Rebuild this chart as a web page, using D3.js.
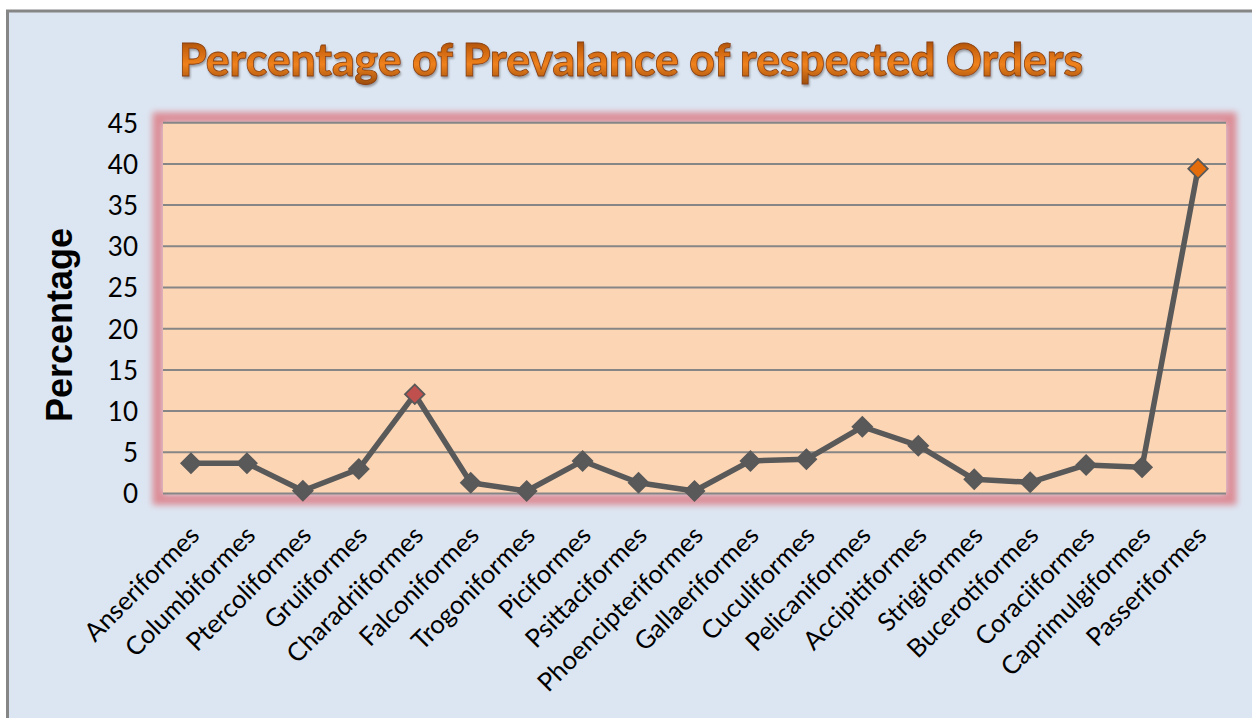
<!DOCTYPE html>
<html><head><meta charset="utf-8">
<script src="https://cdn.jsdelivr.net/npm/d3@7"></script>
<style>html,body{margin:0;padding:0;background:#fff;}svg{display:block;}</style>
</head><body>
<script>
const categories = ["Anseriformes","Columbiformes","Ptercoliformes","Gruiiformes","Charadriiformes","Falconiformes","Trogoniformes","Piciformes","Psittaciformes","Phoencipteriformes","Gallaeriformes","Cuculiformes","Pelicaniformes","Accipitiformes","Strigiformes","Bucerotiformes","Coraciiformes","Caprimulgiformes","Passeriformes"];
const values = [3.67,3.67,0.34,2.97,12.04,1.31,0.3,3.95,1.3,0.3,3.95,4.15,8.1,5.8,1.72,1.36,3.46,3.18,39.4];
const yTicks = [0,5,10,15,20,25,30,35,40,45];
const highlight = {"Charadriiformes":"#c0504d","Passeriformes":"#e46c0a"};
const titleText = "Percentage of Prevalance of respected Orders";
const yLabel = "Percentage";

const W = 1252, H = 718;
const svg = d3.select("body").append("svg").attr("width", W).attr("height", H);
const defs = svg.append("defs");

const grad = defs.append("linearGradient").attr("id","tg").attr("x1",0).attr("y1",0).attr("x2",0).attr("y2",1);
grad.append("stop").attr("offset","0%").attr("stop-color","#7a3604");
grad.append("stop").attr("offset","30%").attr("stop-color","#c8620e");
grad.append("stop").attr("offset","60%").attr("stop-color","#f0821c");
grad.append("stop").attr("offset","100%").attr("stop-color","#96480a");

const glow = defs.append("filter").attr("id","glow").attr("x","-5%").attr("y","-10%").attr("width","110%").attr("height","120%");
glow.append("feGaussianBlur").attr("stdDeviation",3);

const tsh = defs.append("filter").attr("id","tsh").attr("x","-5%").attr("y","-20%").attr("width","110%").attr("height","150%");
tsh.append("feDropShadow").attr("dx",1).attr("dy",2).attr("stdDeviation",1).attr("flood-color","#6b6b6b").attr("flood-opacity",0.6);

// frame
svg.append("rect").attr("x",7.5).attr("y",11).attr("width",W).attr("height",H)
  .attr("fill","#dce6f2").attr("stroke","#868686").attr("stroke-width",3);

const x0 = 163, x1 = 1226;
const x = d3.scalePoint().domain(categories).range([x0, x1]).padding(0.5);
const y = d3.scaleLinear().domain([0,45]).range([493.5,122.7]);

// plot glow + area
svg.append("rect").attr("x",x0-5).attr("y",y(45)-5).attr("width",x1-x0+10).attr("height",y(0)-y(45)+11)
  .attr("fill","none").attr("stroke","#dc8d96").attr("stroke-width",11).attr("filter","url(#glow)");
svg.append("rect").attr("x",x0).attr("y",y(45)).attr("width",x1-x0).attr("height",y(0)-y(45))
  .attr("fill","#fcd5b4");

// gridlines
svg.append("g").selectAll("line").data(yTicks).join("line")
  .attr("x1",x0).attr("x2",x1).attr("y1",d=>y(d)).attr("y2",d=>y(d))
  .attr("stroke","#868686").attr("stroke-width",2);

// y axis labels
const yAxis = d3.axisLeft(y).tickValues(yTicks).tickSize(0).tickPadding(0).tickFormat(d3.format("d"));
const gy = svg.append("g").attr("transform","translate(138,0)").call(yAxis);
gy.select(".domain").remove();
gy.selectAll("text").attr("font-family","Lato, 'Open Sans', sans-serif").attr("font-size",26).attr("fill","#000").attr("dy","0.36em");

// x labels
const gx = svg.append("g");
const xl = gx.selectAll("text").data(categories).join("text")
  .attr("transform",d=>`translate(${x(d)+10},${537}) rotate(-45)`)
  .attr("text-anchor","end")
  .attr("font-family","Lato, 'Open Sans', sans-serif")
  .attr("fill","#000")
  .text(d=>d);
xl.attr("font-size",20);
const refLen = xl.filter(d=>d==="Anseriformes").node().getComputedTextLength();
xl.attr("font-size", 20*150/refLen);

// line
const line = d3.line().x((d,i)=>x(categories[i])).y(d=>y(d));
svg.append("path").datum(values).attr("d",line)
  .attr("fill","none").attr("stroke","#595959").attr("stroke-width",5.5).attr("stroke-linejoin","round");

// markers
const sym = d3.symbol().type(d3.symbolSquare).size(190);
svg.append("g").selectAll("path").data(values).join("path")
  .attr("d",sym)
  .attr("transform",(d,i)=>`translate(${x(categories[i])},${y(d)}) rotate(45)`)
  .attr("fill",(d,i)=>highlight[categories[i]]||"#595959")
  .attr("stroke","#595959").attr("stroke-width",1.8);

// y label
svg.append("text").attr("transform","translate(72,325) rotate(-90)")
  .attr("text-anchor","middle")
  .attr("font-family","'Liberation Sans', Arial, sans-serif").attr("font-weight","bold")
  .attr("font-size",37).attr("textLength",194).attr("lengthAdjust","spacingAndGlyphs")
  .attr("fill","#000").text(yLabel);

// title
svg.append("text").attr("x",631).attr("y",76)
  .attr("text-anchor","middle")
  .attr("font-family","Lato, 'Open Sans', sans-serif").attr("font-weight",900)
  .attr("font-size",45).attr("textLength",904).attr("lengthAdjust","spacingAndGlyphs")
  .attr("fill","url(#tg)").attr("stroke","#8a4008").attr("stroke-width",0.8)
  .attr("filter","url(#tsh)")
  .text(titleText);
</script>
</body></html>
